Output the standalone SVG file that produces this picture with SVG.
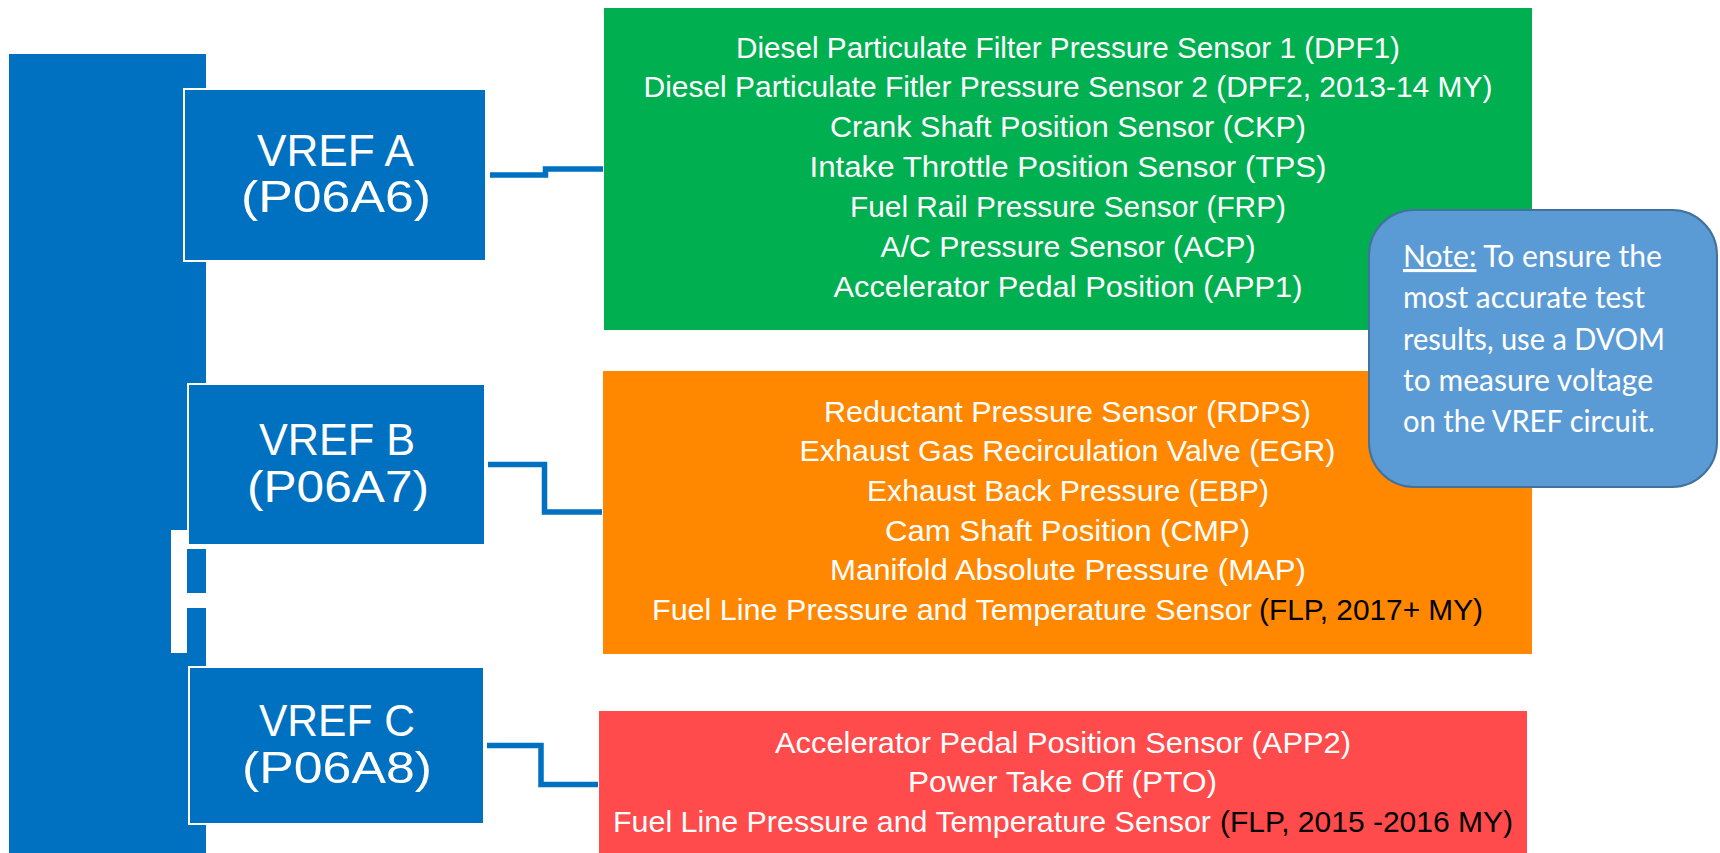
<svg xmlns="http://www.w3.org/2000/svg" width="1720" height="853" viewBox="0 0 1720 853">
<style>
.vbox{fill:#0070C0;stroke:#FFFFFF;stroke-width:2}
.vt{fill:#FFFFFF;font-family:"Liberation Sans",Arial,sans-serif;font-size:45px;text-anchor:middle}
.st{fill:#FFFFFF;font-family:"Liberation Sans",Arial,sans-serif;font-size:29px;text-anchor:middle}
.sl{fill:#FFFFFF;font-family:"Liberation Sans",Arial,sans-serif;font-size:29px}
.sk{fill:#000000;font-family:"Liberation Sans",Arial,sans-serif;font-size:29px}
.nt{fill:#FFFFFF;font-family:Lato,"Open Sans",sans-serif;font-size:31px}
.conn{fill:none;stroke:#0070C0;stroke-width:5.5;stroke-linejoin:miter}
</style>
<rect width="1720" height="853" fill="#FFFFFF"/>
<g id="bus">
<rect x="9" y="54" width="197" height="799" fill="#0070C0"/>
<rect x="171" y="530" width="16" height="123" fill="#FFFFFF"/>
<rect x="187" y="545" width="19" height="4" fill="#FFFFFF"/>
<rect x="187" y="593" width="19" height="15" fill="#FFFFFF"/>
</g>
<g id="vref-a">
<rect class="vbox" x="184" y="89" width="302" height="172"/>
<text class="vt" x="335.5" y="166" textLength="157" lengthAdjust="spacingAndGlyphs">VREF A</text>
<text class="vt" x="336" y="212" textLength="190" lengthAdjust="spacingAndGlyphs">(P06A6)</text>
</g>
<g id="vref-b">
<rect class="vbox" x="188" y="384" width="297" height="161"/>
<text class="vt" x="337" y="455" textLength="156" lengthAdjust="spacingAndGlyphs">VREF B</text>
<text class="vt" x="338" y="502" textLength="182" lengthAdjust="spacingAndGlyphs">(P06A7)</text>
</g>
<g id="vref-c">
<rect class="vbox" x="189" y="667" width="295" height="157"/>
<text class="vt" x="337" y="736" textLength="156" lengthAdjust="spacingAndGlyphs">VREF C</text>
<text class="vt" x="337" y="783" textLength="190" lengthAdjust="spacingAndGlyphs">(P06A8)</text>
</g>
<g id="connectors">
<path class="conn" d="M490,175 H545.5 V169 H603"/>
<path class="conn" d="M488,464.5 H544.5 V512 H602"/>
<path class="conn" d="M487,745.5 H541 V784.5 H598"/>
</g>
<g id="sensors-a">
<rect x="604" y="8" width="928" height="322" fill="#00B050"/>
<text class="st" x="1068" y="57.5" textLength="664" lengthAdjust="spacingAndGlyphs">Diesel Particulate Filter Pressure Sensor 1 (DPF1)</text>
<text class="st" x="1068" y="97.4" textLength="849" lengthAdjust="spacingAndGlyphs">Diesel Particulate Fitler Pressure Sensor 2 (DPF2, 2013-14 MY)</text>
<text class="st" x="1068" y="137.3" textLength="476" lengthAdjust="spacingAndGlyphs">Crank Shaft Position Sensor (CKP)</text>
<text class="st" x="1068" y="177.2" textLength="517" lengthAdjust="spacingAndGlyphs">Intake Throttle Position Sensor (TPS)</text>
<text class="st" x="1068" y="217.1" textLength="436" lengthAdjust="spacingAndGlyphs">Fuel Rail Pressure Sensor (FRP)</text>
<text class="st" x="1068" y="257" textLength="375" lengthAdjust="spacingAndGlyphs">A/C Pressure Sensor (ACP)</text>
<text class="st" x="1068" y="296.9" textLength="469" lengthAdjust="spacingAndGlyphs">Accelerator Pedal Position (APP1)</text>
</g>
<g id="sensors-b">
<rect x="603" y="371" width="929" height="283" fill="#FF8800"/>
<text class="st" x="1067.5" y="421.5" textLength="487" lengthAdjust="spacingAndGlyphs">Reductant Pressure Sensor (RDPS)</text>
<text class="st" x="1067.5" y="461.2" textLength="536" lengthAdjust="spacingAndGlyphs">Exhaust Gas Recirculation Valve (EGR)</text>
<text class="st" x="1068" y="500.9" textLength="402" lengthAdjust="spacingAndGlyphs">Exhaust Back Pressure (EBP)</text>
<text class="st" x="1067.5" y="540.6" textLength="365" lengthAdjust="spacingAndGlyphs">Cam Shaft Position (CMP)</text>
<text class="st" x="1068" y="580.3" textLength="476" lengthAdjust="spacingAndGlyphs">Manifold Absolute Pressure (MAP)</text>
<text class="sl" x="652" y="620" textLength="600" lengthAdjust="spacingAndGlyphs">Fuel Line Pressure and Temperature Sensor</text>
<text class="sk" x="1259" y="620" textLength="224" lengthAdjust="spacingAndGlyphs">(FLP, 2017+ MY)</text>
</g>
<g id="sensors-c">
<rect x="599" y="711" width="928" height="142" fill="#FF4B4B"/>
<text class="st" x="1063" y="752.5" textLength="576" lengthAdjust="spacingAndGlyphs">Accelerator Pedal Position Sensor (APP2)</text>
<text class="st" x="1062.5" y="792" textLength="309" lengthAdjust="spacingAndGlyphs">Power Take Off (PTO)</text>
<text class="sl" x="613" y="831.5" textLength="598" lengthAdjust="spacingAndGlyphs">Fuel Line Pressure and Temperature Sensor</text>
<text class="sk" x="1220" y="831.5" textLength="293" lengthAdjust="spacingAndGlyphs">(FLP, 2015 -2016 MY)</text>
</g>
<g id="note">
<rect x="1369" y="210" width="348" height="277" rx="45" ry="45" fill="#5B9BD5" stroke="#41719C" stroke-width="2"/>
<text class="nt" x="1403" y="267" textLength="259" lengthAdjust="spacingAndGlyphs"><tspan style="text-decoration:underline">Note:</tspan> To ensure the</text>
<text class="nt" x="1403" y="308.3" textLength="242" lengthAdjust="spacingAndGlyphs">most accurate test</text>
<text class="nt" x="1403" y="349.6" textLength="262" lengthAdjust="spacingAndGlyphs">results, use a DVOM</text>
<text class="nt" x="1403" y="390.9" textLength="250" lengthAdjust="spacingAndGlyphs">to measure voltage</text>
<text class="nt" x="1403" y="432.2" textLength="252" lengthAdjust="spacingAndGlyphs">on the VREF circuit.</text>
</g>
</svg>
